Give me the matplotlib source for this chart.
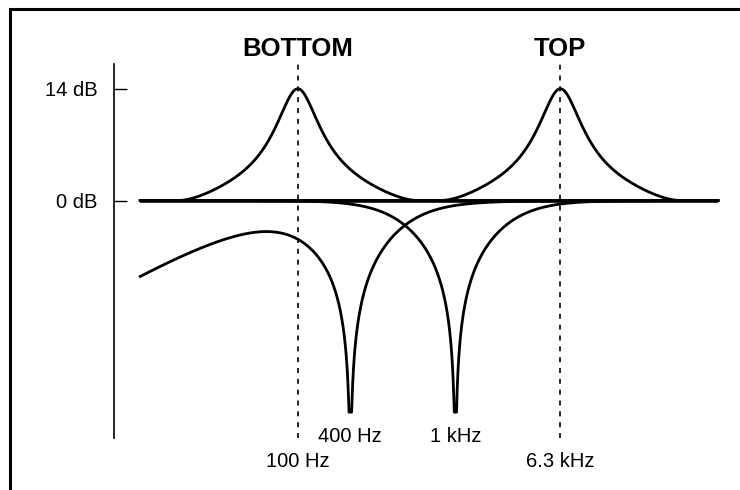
import numpy as np
import matplotlib.pyplot as plt
from matplotlib.patches import Rectangle

plt.rcParams['font.family'] = ['Liberation Sans', 'DejaVu Sans']

# schematic frequency positions (the diagram is not drawn to scale)
band_names = ['BOTTOM', 'TOP']
peak_pos = [0, 5]            # 100 Hz, 6.3 kHz
peak_gain = 14               # dB
notch_pos = [1, 3]           # 400 Hz, 1 kHz
notch_floor = -26.5          # dB, depth where the notch is cut off
hp_corner = -0.65            # low-cut corner under the bottom band
hp_slope = 0.88
upper_pos = [1, 3]
upper_labels = ['400 Hz', '1 kHz']
lower_pos = [0, 5]
lower_labels = ['100 Hz', '6.3 kHz']
x_span = [-3, 8]
yticks = [14, 0]
ytick_labels = ['14 dB', '0 dB']


def peak(u, centre, gain=peak_gain, w=0.56, p=1.6, reach=2.3, e=0.3):
    d = np.abs(u - centre)
    r = ((d ** 2 + e ** 2) ** (p / 2) - e ** p) / w ** p
    taper = np.clip(1 - (d / reach) ** 4, 0, None) ** 2
    return gain / (1 + r) * taper


def notch(u, centre, c=2.5, k=1.4, p=1.5):
    with np.errstate(divide='ignore'):
        return -10 * np.log10(1 + c / np.abs(np.sinh(k * (u - centre))) ** p)


def highpass(u):
    return -10 * np.log10(1 + np.exp(-hp_slope * (u - hp_corner)))


u = np.union1d(np.linspace(x_span[0], x_span[1], 4401), notch_pos + peak_pos)

fig = plt.figure(figsize=(7.4, 4.9), dpi=100)
ax = fig.add_axes([114 / 740, 1 - 437.7 / 490, 626 / 740, 373.7 / 490])

# flat 0 dB response
ax.plot(x_span, [0, 0], color='black', lw=2.6, solid_capstyle='butt')

# bottom band: low cut + 400 Hz notch, then 1 kHz notch
low = np.maximum(highpass(u) + notch(u, notch_pos[0]), notch_floor)
ax.plot(u, low, color='black', lw=2.0)
ax.plot(u, np.maximum(notch(u, notch_pos[1]), notch_floor), color='black', lw=2.0)

# boost curves
for c in peak_pos:
    ax.plot(u, peak(u, c), color='black', lw=2.0)
    ax.axvline(c, color='black', lw=1.2, ls=(0, (3, 3.5)))

for c, name in zip(peak_pos, band_names):
    ax.text(c, 18.1, name, ha='center', va='baseline', fontsize=18.5, fontweight='bold')
for c, lbl in zip(upper_pos, upper_labels):
    ax.text(c, -30.2, lbl, ha='center', va='baseline', fontsize=14.5)
for c, lbl in zip(lower_pos, lower_labels):
    ax.text(c, -33.4, lbl, ha='center', va='baseline', fontsize=14.5)

ax.set_xlim(-3.5, 8.42)
ax.set_ylim(-29.7, 17.1)
ax.set_xticks([])
ax.set_yticks(yticks, ytick_labels)
ax.tick_params(axis='y', direction='in', length=9.5, width=1, pad=12, labelsize=14.5)
for side in ['top', 'right', 'bottom']:
    ax.spines[side].set_visible(False)
ax.spines['left'].set_linewidth(1.2)
ax.patch.set_alpha(0)

# page frame (right and bottom edges fall outside the picture)
fig.add_artist(Rectangle((10 / 740, -0.5), 2, 0.5 + 1 - 9 / 490, transform=fig.transFigure,
                         fill=False, lw=2.2, ec='black'))

fig.savefig('out.png', dpi=100)
